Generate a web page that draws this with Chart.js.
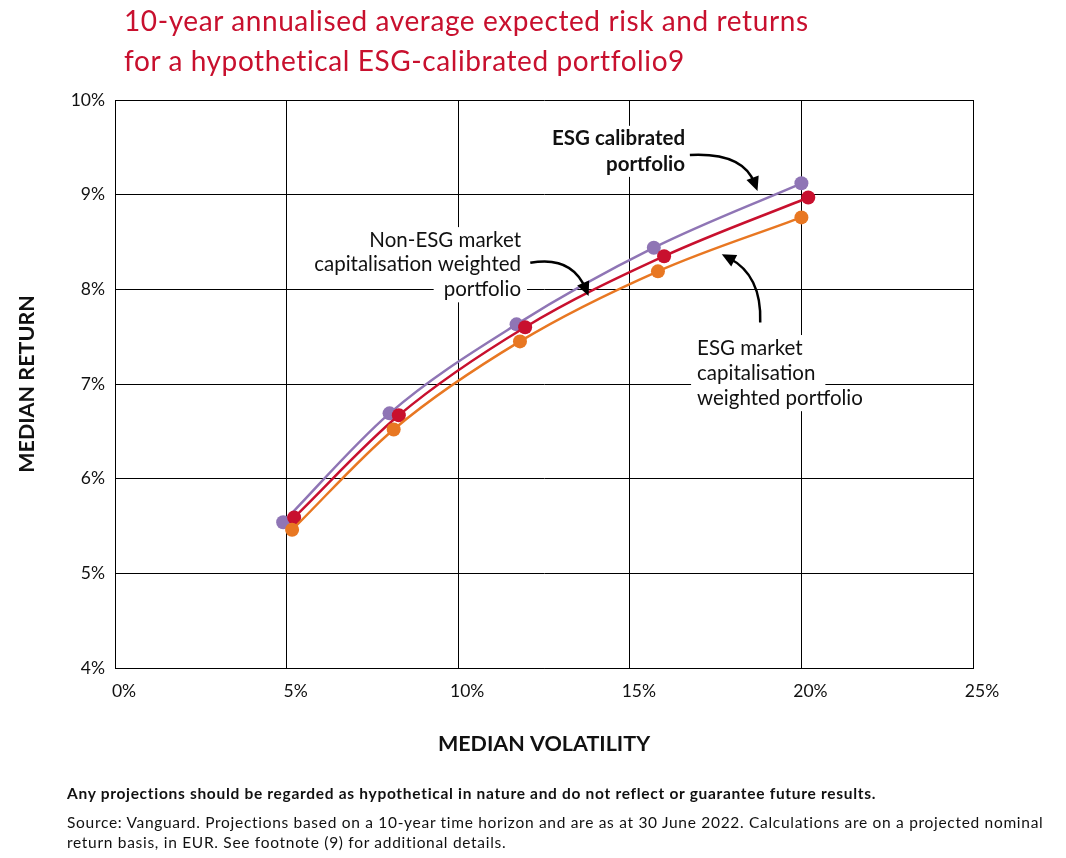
<!DOCTYPE html>
<html>
<head>
<meta charset="utf-8">
<script src="https://cdn.jsdelivr.net/npm/chart.js@4.4.1/dist/chart.umd.min.js"></script>
<style>
  html, body { margin:0; padding:0; background:#fff; }
  #wrap { position:relative; width:1066px; height:858px; overflow:hidden; }
  #c { position:absolute; left:0; top:0; }
  .title { position:absolute; left:124px; top:0px; font-family:Lato, "Noto Sans", sans-serif; font-size:28px; letter-spacing:0.6px; line-height:40px; color:#c8102e; white-space:nowrap; }
  .note { position:absolute; left:67px; font-family:Lato, "Noto Sans", sans-serif; color:#111; white-space:nowrap; letter-spacing:0.7px; }
</style>
</head>
<body>
<div id="wrap">
  <canvas id="c" width="1066" height="858"></canvas>
  <div class="title">10-year annualised average expected risk and returns<br>for a hypothetical ESG-calibrated portfolio9</div>
  <div class="note" style="top:784px;font-size:15.5px;font-weight:bold;">Any projections should be regarded as hypothetical in nature and do not reflect or guarantee future results.</div>
  <div class="note" style="top:812px;font-size:15.5px;line-height:20px;">Source: Vanguard. Projections based on a 10-year time horizon and are as at 30 June 2022. Calculations are on a projected nominal<br>return basis, in EUR. See footnote (9) for additional details.</div>
</div>
<script>
// ---- data ----
const xTicks = [0, 5, 10, 15, 20, 25];
const yTicks = [4, 5, 6, 7, 8, 9, 10];
const seriesNames = ["ESG calibrated portfolio", "Non-ESG market capitalisation weighted portfolio", "ESG market capitalisation weighted portfolio"];
const volCalibrated = [4.9, 8.0, 11.7, 15.7, 20.0];
const retCalibrated = [5.54, 6.69, 7.63, 8.44, 9.12];
const volNonEsg = [5.22, 8.27, 11.95, 16.0, 20.2];
const retNonEsg = [5.59, 6.67, 7.60, 8.35, 8.97];
const volEsgMkt = [5.16, 8.12, 11.8, 15.82, 20.0];
const retEsgMkt = [5.46, 6.52, 7.45, 8.19, 8.76];

const colors = { calibrated:"#8f75b5", nonEsg:"#c8102e", esgMkt:"#e87722" };

function pts(xs, ys){ return xs.map((x,i)=>({x:x, y:ys[i]})); }

// annotation texts with anchor positions in data units
const annotations = [
  { lines:["ESG calibrated","portfolio"], bold:true, align:"right", x:16.61, y:[9.59, 9.325],
    arrow:{ from:[16.75,9.42], ctrl:[18.3,9.45], to:[18.72,9.04] } },
  { lines:["Non-ESG market","capitalisation weighted","portfolio"], bold:false, align:"right", x:11.83, y:[8.52,8.26,8.0],
    arrow:{ from:[12.1,8.28], ctrl:[13.3,8.36], to:[13.8,7.93] } },
  { lines:["ESG market","capitalisation","weighted portfolio"], bold:false, align:"left", x:16.96, y:[7.38,7.115,6.85],
    arrow:{ from:[18.8,7.65], ctrl:[18.85,8.15], to:[17.68,8.37] } }
];

const FONT = 'Lato, "Noto Sans", sans-serif';
const ANNO_SIZE = "20.5px ";

const annoPlugin = {
  id:"anno",
  beforeDatasetsDraw(chart){
    const ctx = chart.ctx, xs = chart.scales.x, ys = chart.scales.y;
    ctx.save();
    annotations.forEach(a=>{
      ctx.font = (a.bold?"bold ":"") + ANNO_SIZE + FONT;
      a.lines.forEach((t,i)=>{
        const w = ctx.measureText(t).width;
        const px = xs.getPixelForValue(a.x), py = ys.getPixelForValue(a.y[i]);
        const left = a.align==="right" ? px - w - 10 : px - 6;
        ctx.fillStyle = "#fff";
        ctx.fillRect(left, py-13, w+16, 26);
      });
    });
    ctx.restore();
  },
  afterDatasetsDraw(chart){
    const ctx = chart.ctx, xs = chart.scales.x, ys = chart.scales.y;
    ctx.save();
    annotations.forEach(a=>{
      ctx.font = (a.bold?"bold ":"") + ANNO_SIZE + FONT;
      ctx.fillStyle = "#111";
      ctx.textAlign = a.align;
      ctx.textBaseline = "middle";
      a.lines.forEach((t,i)=>{
        ctx.fillText(t, xs.getPixelForValue(a.x), ys.getPixelForValue(a.y[i]));
      });
      const f=[xs.getPixelForValue(a.arrow.from[0]), ys.getPixelForValue(a.arrow.from[1])];
      const c=[xs.getPixelForValue(a.arrow.ctrl[0]), ys.getPixelForValue(a.arrow.ctrl[1])];
      const e=[xs.getPixelForValue(a.arrow.to[0]), ys.getPixelForValue(a.arrow.to[1])];
      ctx.strokeStyle="#000"; ctx.lineWidth=2.5;
      const ang = Math.atan2(e[1]-c[1], e[0]-c[0]);
      const back=[e[0]-8*Math.cos(ang), e[1]-8*Math.sin(ang)];
      ctx.beginPath(); ctx.moveTo(f[0],f[1]); ctx.quadraticCurveTo(c[0],c[1],back[0],back[1]); ctx.stroke();
      const L=14, W=6.5;
      ctx.fillStyle="#000";
      ctx.beginPath();
      ctx.moveTo(e[0],e[1]);
      ctx.lineTo(e[0]-L*Math.cos(ang)+W*Math.sin(ang), e[1]-L*Math.sin(ang)-W*Math.cos(ang));
      ctx.lineTo(e[0]-L*Math.cos(ang)-W*Math.sin(ang), e[1]-L*Math.sin(ang)+W*Math.cos(ang));
      ctx.closePath(); ctx.fill();
    });
    ctx.restore();
  }
};

function ds(label, data, color, order){
  return { label, data, borderColor:color, backgroundColor:color, pointBackgroundColor:color,
    pointBorderWidth:0, pointRadius:7, pointHoverRadius:7, borderWidth:2.5, showLine:true,
    cubicInterpolationMode:"monotone", order };
}

new Chart(document.getElementById("c"), {
  type:"scatter",
  data:{ datasets:[
    ds(seriesNames[0], pts(volCalibrated, retCalibrated), colors.calibrated, 2),
    ds(seriesNames[1], pts(volNonEsg, retNonEsg), colors.nonEsg, 1),
    ds(seriesNames[2], pts(volEsgMkt, retEsgMkt), colors.esgMkt, 0)
  ]},
  options:{
    responsive:false, animation:false,
    layout:{ padding:{ left:0, top:100, right:93, bottom:100 } },
    plugins:{ legend:{display:false}, tooltip:{enabled:false} },
    scales:{
      x:{ type:"linear", min:0, max:25,
        afterBuildTicks(s){ s.ticks = xTicks.map(v=>({value:v})); },
        afterFit(s){ s.height = 90; },
        grid:{ color:"#000", lineWidth:1, drawTicks:false },
        border:{ color:"#000", width:1 },
        ticks:{ callback:v=>v+"%", font:{family:FONT,size:17.5}, color:"#111", padding:13, labelOffset:9, maxRotation:0 },
        title:{ display:true, text:"MEDIAN VOLATILITY", font:{family:FONT,size:21.5,weight:"bold"}, color:"#111", padding:{top:0,bottom:1} }
      },
      y:{ type:"linear", min:4, max:10,
        afterBuildTicks(s){ s.ticks = yTicks.map(v=>({value:v})); },
        afterFit(s){ s.width = 115; },
        grid:{ color:"#000", lineWidth:1, drawTicks:false },
        border:{ color:"#000", width:1 },
        ticks:{ callback:v=>v+"%", font:{family:FONT,size:17.5}, color:"#111", padding:10 },
        title:{ display:true, text:"MEDIAN RETURN", font:{family:FONT,size:21.5,weight:"bold"}, color:"#111", padding:{top:14,bottom:0} }
      }
    }
  },
  plugins:[annoPlugin]
});
</script>
</body>
</html>
